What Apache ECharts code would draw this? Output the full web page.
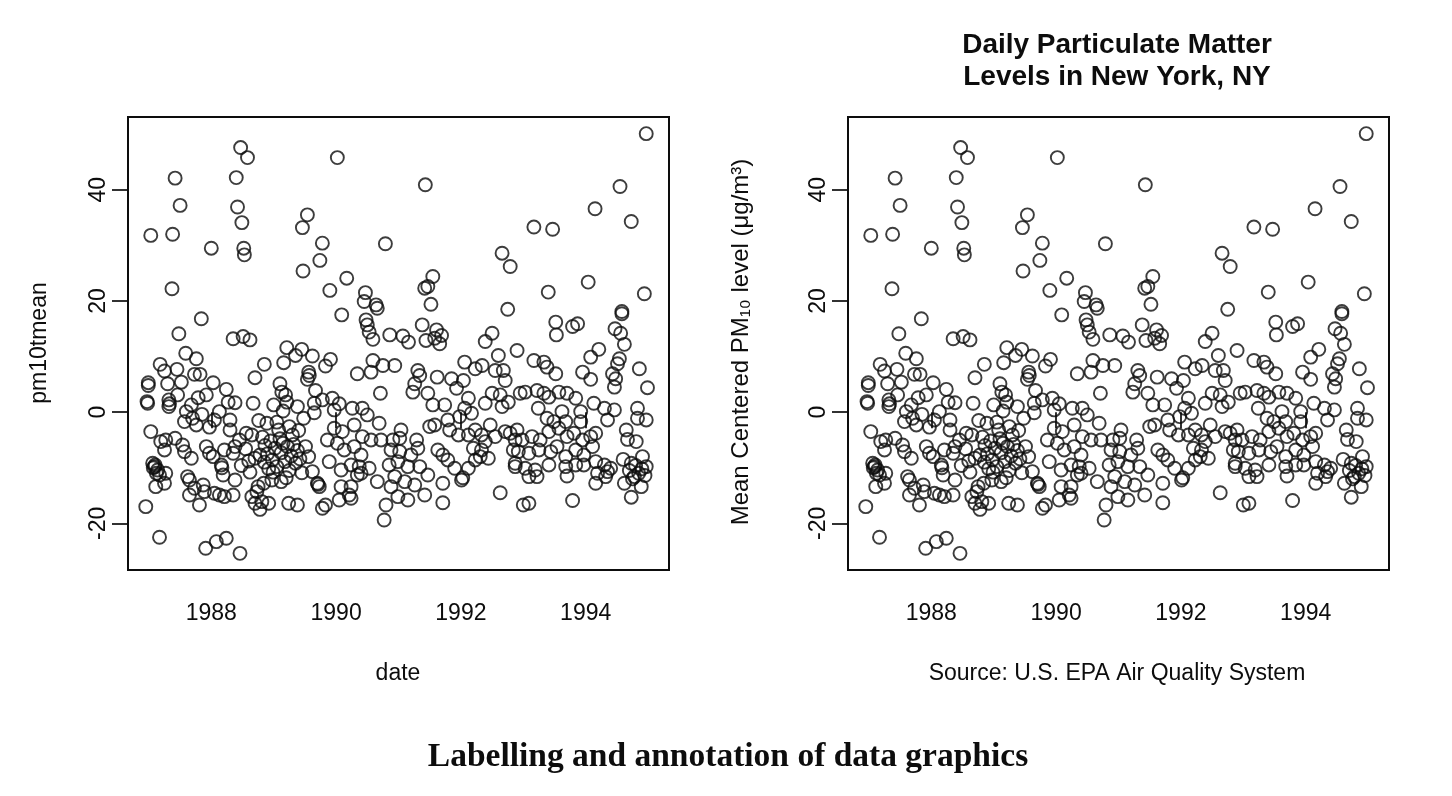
<!DOCTYPE html>
<html>
<head>
<meta charset="utf-8">
<title>Daily Particulate Matter Levels in New York, NY</title>
<script src="https://cdn.jsdelivr.net/npm/echarts@6/dist/echarts.min.js"></script>
<style>
  html, body { margin: 0; padding: 0; background: #fff; }
  #chart { width: 1452px; height: 796px; }
</style>
</head>
<body>
<div id="chart"></div>
<script>
// Mean-centred daily PM10, New York, [decimal year, value]
var pm1987 = [
  [1986.95,-17.0],[1986.97,1.9],[1986.98,1.6],[1986.99,5.3],[1986.99,4.8],[1987.03,31.8],[1987.03,-3.5],
  [1987.06,-9.2],[1987.07,-10.0],[1987.09,-9.8],[1987.10,-9.5],[1987.11,-13.4],[1987.12,-11.0],[1987.14,-10.4],
  [1987.17,-11.3],[1987.17,-22.5],[1987.18,8.6],[1987.19,-5.3],[1987.25,7.4],[1987.25,-6.8],[1987.25,-12.8],
  [1987.27,-5.0],[1987.27,-11.0],[1987.30,5.1],[1987.32,2.2],[1987.32,1.0],[1987.33,1.5],[1987.37,22.2],[1987.38,32.0],
  [1987.42,42.1],[1987.42,-4.7],[1987.45,7.7],[1987.46,3.1],[1987.48,14.1],[1987.50,37.2],[1987.52,5.4],[1987.54,-5.9],
  [1987.57,-1.7],[1987.57,-7.1],[1987.59,10.6],[1987.60,0.1],[1987.62,-11.6],[1987.65,-12.2],[1987.65,-14.9],[1987.68,1.3],
  [1987.68,-8.3],[1987.70,-1.1],[1987.73,6.8],[1987.73,-13.7],[1987.76,9.6],[1987.76,-2.3],[1987.79,2.6],[1987.81,-16.7],
  [1987.82,6.8],[1987.84,16.8],[1987.85,-0.4],[1987.87,-13.1],[1987.89,-14.3],[1987.91,-24.5],[1987.92,3.1],[1987.92,-6.2],
  [1987.97,-2.7],[1987.97,-7.4]
];
var pm1988 = [
  [1988.00,29.5],[1988.03,5.3],[1988.03,-8.0],[1988.05,-1.4],[1988.05,-14.6],[1988.08,-23.3],[1988.13,0.1],[1988.13,-14.9],
  [1988.16,-9.5],[1988.17,-10.0],[1988.19,-11.3],[1988.21,-6.8],[1988.21,-15.2],[1988.24,4.1],[1988.24,-22.7],[1988.27,1.8],
  [1988.30,-1.4],[1988.30,-3.2],[1988.35,13.2],[1988.35,-7.4],[1988.35,-14.9],[1988.38,1.7],[1988.38,-6.2],[1988.38,-12.2],
  [1988.40,42.2],[1988.42,36.9],[1988.45,-5.0],[1988.46,-25.4],[1988.47,47.6],[1988.48,-9.6],[1988.49,34.1],[1988.51,13.6],
  [1988.52,29.5],[1988.53,28.3],[1988.55,-6.6],[1988.56,-3.8],[1988.58,45.8],[1988.60,-8.8],[1988.62,13.0],[1988.62,-10.8],
  [1988.65,-4.1],[1988.65,-15.2],[1988.67,1.6],[1988.70,6.2],[1988.70,-8.3],[1988.70,-16.4],[1988.73,-14.3],[1988.75,-13.4],
  [1988.76,-1.5],[1988.78,-7.7],[1988.78,-17.5],[1988.81,-16.1],[1988.82,-4.5],[1988.84,-12.8],[1988.85,8.6],[1988.85,-9.0],
  [1988.86,-6.0],[1988.89,-2.0],[1988.90,-7.5],[1988.92,-16.4],[1988.92,-10.2],[1988.95,-5.2],[1988.97,-12.2],[1988.98,-8.6],
  [1988.99,-10.8]
];
var pm1989 = [
  [1989.00,1.3],[1989.02,-6.5],[1989.05,-9.8],[1989.05,-1.8],[1989.08,-3.2],[1989.10,-4.8],[1989.10,5.1],[1989.12,-7.3],
  [1989.12,-12.5],[1989.13,3.6],[1989.15,-5.6],[1989.15,0.2],[1989.16,8.9],[1989.18,-8.9],[1989.19,3.1],[1989.20,-11.8],
  [1989.21,11.6],[1989.21,1.8],[1989.22,-6.2],[1989.24,-16.4],[1989.25,-10.5],[1989.25,-2.6],[1989.28,-7.9],[1989.30,-4.1],
  [1989.32,-5.8],[1989.35,10.2],[1989.35,-9.2],[1989.38,1.0],[1989.38,-6.9],[1989.38,-16.7],[1989.40,-3.3],[1989.42,-8.4],
  [1989.45,11.3],[1989.45,-10.9],[1989.46,33.2],[1989.47,25.4],[1989.48,-1.1],[1989.51,-6.2],[1989.54,35.5],[1989.54,5.9],
  [1989.56,7.2],[1989.57,6.6],[1989.56,-8.0],[1989.62,10.1],[1989.62,-10.7],[1989.65,1.6],[1989.65,-0.1],[1989.67,3.9],
  [1989.70,-12.8],[1989.71,-13.0],[1989.73,-13.4],[1989.74,27.3],[1989.78,30.4],[1989.78,2.2],[1989.78,-17.3],[1989.83,8.3],
  [1989.83,-16.7],[1989.86,-5.0],[1989.89,-8.9],[1989.90,21.9],[1989.91,9.5],[1989.94,2.5],[1989.97,0.4],[1989.97,-2.9]
];
var pm1990 = [
  [1990.02,45.8],[1990.02,-5.6],[1990.05,1.5],[1990.05,-15.8],[1990.08,-10.4],[1990.08,-13.4],[1990.09,17.5],[1990.10,-3.5],
  [1990.13,-6.8],[1990.17,24.1],[1990.21,-14.9],[1990.24,-9.5],[1990.24,-13.4],[1990.24,-15.5],[1990.26,0.7],[1990.29,-2.3],
  [1990.29,-6.2],[1990.34,6.9],[1990.34,-11.3],[1990.37,-9.8],[1990.40,-7.7],[1990.40,-11.0],[1990.42,0.7],[1990.42,-4.4],
  [1990.45,19.9],[1990.47,21.5],[1990.48,16.6],[1990.50,15.7],[1990.50,-0.5],[1990.53,14.4],[1990.53,-10.1],[1990.56,7.2],
  [1990.56,-5.0],[1990.59,9.3],[1990.59,13.1],[1990.64,19.3],[1990.66,18.7],[1990.66,-12.5],[1990.69,-2.0],[1990.71,3.4],
  [1990.72,-5.0],[1990.75,8.4],[1990.77,-19.4],[1990.79,30.3],[1990.80,-16.7],[1990.85,-9.5],[1990.86,13.9],[1990.88,-6.8],
  [1990.88,-13.4],[1990.91,-5.0],[1990.94,8.4],[1990.94,-11.6],[1990.99,-8.9],[1990.99,-15.2]
];
var pm1991 = [
  [1991.02,-4.7],[1991.02,-7.1],[1991.04,-3.2],[1991.07,13.7],[1991.10,-12.5],[1991.15,-9.8],[1991.15,-15.8],[1991.16,12.6],
  [1991.20,-7.7],[1991.23,3.6],[1991.26,5.1],[1991.26,-13.1],[1991.29,-5.0],[1991.31,7.5],[1991.31,-6.5],[1991.34,6.6],
  [1991.34,-9.8],[1991.38,15.7],[1991.42,22.3],[1991.42,-14.9],[1991.43,40.9],[1991.44,12.9],[1991.47,22.6],[1991.47,3.4],
  [1991.47,-11.3],[1991.50,-2.6],[1991.52,19.4],[1991.55,24.4],[1991.55,1.3],[1991.58,13.3],[1991.58,-2.3],[1991.61,14.8],
  [1991.62,6.3],[1991.63,-6.8],[1991.66,12.3],[1991.69,13.8],[1991.71,-7.7],[1991.71,-12.8],[1991.71,-16.3],[1991.74,1.3],
  [1991.79,-1.4],[1991.79,-8.6],[1991.82,-3.2],[1991.85,6.0],[1991.90,-10.1],[1991.93,4.3],[1991.96,-4.1],[1991.98,-0.8]
];
var pm1992 = [
  [1992.01,-12.2],[1992.03,-11.8],[1992.04,5.7],[1992.06,9.0],[1992.06,0.7],[1992.12,2.5],[1992.12,-4.1],[1992.12,-10.1],
  [1992.17,-0.2],[1992.20,-6.5],[1992.23,7.8],[1992.23,-3.2],[1992.23,-8.6],[1992.31,-8.0],[1992.33,-4.1],[1992.33,-6.8],
  [1992.34,8.4],[1992.39,12.7],[1992.39,1.6],[1992.39,-5.3],[1992.44,-8.3],[1992.47,-2.3],[1992.50,14.2],[1992.50,3.4],
  [1992.55,7.5],[1992.55,-4.4],[1992.60,10.2],[1992.63,3.1],[1992.63,-14.5],[1992.66,28.6],[1992.66,1.0],[1992.68,7.5],
  [1992.71,5.7],[1992.71,-3.5],[1992.75,18.5],[1992.76,1.8],[1992.79,26.2],[1992.79,-3.8],[1992.84,-6.8],[1992.87,-5.0],
  [1992.87,-9.8],[1992.87,-9.2],[1992.90,11.1],[1992.90,-3.2],[1992.92,-7.1],[1992.95,3.4],[1992.98,-5.0]
];
var pm1993 = [
  [1993.00,-16.7],[1993.03,3.6],[1993.03,-10.1],[1993.09,-7.4],[1993.09,-11.6],[1993.09,-16.4],[1993.14,-4.4],[1993.17,33.3],
  [1993.17,9.3],[1993.19,-10.4],[1993.22,3.9],[1993.22,-11.6],[1993.24,0.7],[1993.25,-6.8],[1993.27,-5.0],[1993.33,9.0],
  [1993.33,3.4],[1993.38,8.1],[1993.38,-1.1],[1993.40,21.6],[1993.41,2.7],[1993.41,-3.5],[1993.41,-9.5],[1993.44,-7.1],
  [1993.47,32.9],[1993.49,-1.7],[1993.52,16.2],[1993.52,6.9],[1993.53,13.9],[1993.54,-6.2],[1993.57,3.6],[1993.57,-2.9],
  [1993.62,0.1],[1993.68,-1.7],[1993.68,-8.0],[1993.68,-9.8],[1993.70,3.4],[1993.70,-4.4],[1993.70,-11.5],[1993.79,15.4],
  [1993.79,-15.9],[1993.81,-3.8],[1993.84,2.5],[1993.84,-6.8],[1993.84,-9.5],[1993.87,15.9],[1993.92,0.1],[1993.92,-1.7],
  [1993.95,7.2],[1993.95,-5.0],[1993.97,-7.7],[1993.97,-9.5]
];
var pm1994 = [
  [1994.04,23.4],[1994.08,9.9],[1994.08,5.9],[1994.08,-4.4],[1994.11,-6.2],[1994.13,1.6],[1994.15,36.6],[1994.16,-3.8],
  [1994.16,-8.9],[1994.16,-12.8],[1994.19,-11.0],[1994.21,11.3],[1994.30,0.7],[1994.30,-9.5],[1994.32,-11.6],[1994.35,-1.4],
  [1994.35,-10.7],[1994.40,-10.1],[1994.43,6.9],[1994.46,4.5],[1994.46,0.4],[1994.47,15.0],[1994.48,6.0],[1994.51,8.7],
  [1994.54,9.6],[1994.55,40.6],[1994.56,14.2],[1994.58,18.1],[1994.58,17.7],[1994.60,-8.5],[1994.62,12.2],[1994.62,-12.8],
  [1994.65,-3.2],[1994.67,-4.9],[1994.70,-10.5],[1994.73,34.3],[1994.73,-9.2],[1994.73,-15.3],[1994.75,-12.0],[1994.78,-11.6],
  [1994.80,-9.6],[1994.81,-5.3],[1994.83,0.7],[1994.83,-1.1],[1994.85,-11.0],[1994.86,7.8],[1994.89,-13.4],[1994.90,-10.2],
  [1994.91,-8.0],[1994.94,21.3],[1994.95,-11.4],[1994.97,50.1],[1994.97,-1.4],[1994.97,-9.8],[1994.99,4.4]
];

var xTicks = [1988, 1990, 1992, 1994];
var yTicks = [-20, 0, 20, 40];
var titleLines = ["Daily Particulate Matter", "Levels in New York, NY"];

(function () {
  var data = [].concat(pm1987, pm1988, pm1989, pm1990, pm1991, pm1992, pm1993, pm1994);
  var SANS = "'Liberation Sans', Arial, Helvetica, sans-serif";
  var INK = "#0d0d0d";

  function xAxis(i) {
    return {
      type: "value", gridIndex: i, min: 1986.665, max: 1995.335,
      axisLine: { show: false }, splitLine: { show: false },
      axisTick: { show: true, length: 16, customValues: xTicks, lineStyle: { color: INK, width: 1.7 } },
      axisLabel: { customValues: xTicks, margin: 32, fontSize: 23, fontFamily: SANS, color: INK,
        formatter: function (v) { return String(v); } }
    };
  }
  function yAxis(i) {
    return {
      type: "value", gridIndex: i, min: -28.4, max: 53.1,
      axisLine: { show: false }, splitLine: { show: false },
      axisTick: { show: true, length: 16, customValues: yTicks, lineStyle: { color: INK, width: 1.7 } },
      axisLabel: { customValues: yTicks, rotate: 90, margin: 18, fontSize: 23, fontFamily: SANS, color: INK }
    };
  }
  function points(i) {
    return {
      type: "scatter", xAxisIndex: i, yAxisIndex: i, data: data, silent: true,
      symbol: "circle", symbolSize: 13,
      itemStyle: { color: "rgba(0,0,0,0)", borderColor: INK, borderWidth: 1.9 }
    };
  }
  function txt(text, x, y, size, opts) {
    opts = opts || {};
    return {
      type: "text", x: x, y: y, rotation: opts.rot || 0,
      style: { text: text, font: (opts.bold ? "bold " : "") + size + "px " + (opts.family || SANS),
        fill: INK, align: "center", verticalAlign: "middle", lineHeight: opts.lh || size }
    };
  }

  var c = echarts.init(document.getElementById("chart"), null, { renderer: "canvas" });
  c.setOption({
    animation: false,
    backgroundColor: "#fff",
    grid: [
      { left: 128, top: 117, width: 541, height: 453, show: true, borderColor: INK, borderWidth: 2, backgroundColor: "transparent" },
      { left: 848, top: 117, width: 541, height: 453, show: true, borderColor: INK, borderWidth: 2, backgroundColor: "transparent" }
    ],
    xAxis: [xAxis(0), xAxis(1)],
    yAxis: [yAxis(0), yAxis(1)],
    series: [points(0), points(1)],
    graphic: [
      txt(titleLines.join("\n"), 1117, 61, 28, { bold: true, lh: 32 }),
      txt("pm10tmean", 40, 343, 23, { rot: Math.PI / 2 }),
      txt("date", 398, 674, 23),
      txt("Mean Centered PM\u2081\u2080 level (\u03bcg/m\u00b3)", 741, 342, 24, { rot: Math.PI / 2 }),
      txt("Source: U.S. EPA Air Quality System", 1117, 674, 23),
      txt("Labelling and annotation of data graphics", 728, 757, 33.5, { bold: true, family: "'Liberation Serif', 'Times New Roman', serif" })
    ]
  });
})();
</script>
</body>
</html>
